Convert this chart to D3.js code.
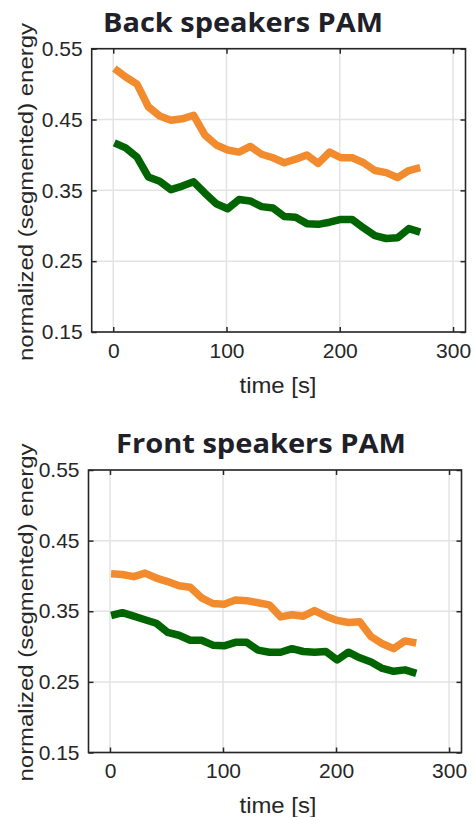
<!DOCTYPE html>
<html>
<head>
<meta charset="utf-8">
<script src="https://cdn.jsdelivr.net/npm/d3@7"></script>
<style>
  body { margin: 0; background: #fff; }
  svg { display: block; }
</style>
</head>
<body>
<div class="canva"></div>
<script>
// time stamps of the segments (s)
const times = [1, 11, 21, 31, 41, 51, 61, 71, 81, 91, 101, 111, 121, 131,
               141, 151, 161, 171, 181, 191, 201, 211, 221, 231, 241, 251, 261, 271];

// back speakers
const backOrange = [0.522, 0.510, 0.500, 0.468, 0.455, 0.449, 0.451, 0.456, 0.428, 0.414,
                    0.407, 0.404, 0.412, 0.401, 0.396, 0.389, 0.394, 0.400, 0.388, 0.404,
                    0.396, 0.396, 0.389, 0.378, 0.375, 0.368, 0.378, 0.382];
const backGreen = [0.417, 0.410, 0.397, 0.369, 0.363, 0.351, 0.356, 0.362, 0.346, 0.331,
                   0.324, 0.337, 0.335, 0.327, 0.325, 0.313, 0.312, 0.303, 0.302, 0.305,
                   0.309, 0.309, 0.297, 0.286, 0.282, 0.283, 0.296, 0.291];

// front speakers
const frontOrange = [0.403, 0.402, 0.399, 0.404, 0.397, 0.392, 0.386, 0.384, 0.369, 0.361,
                     0.360, 0.366, 0.365, 0.362, 0.359, 0.342, 0.345, 0.343, 0.351, 0.343,
                     0.337, 0.334, 0.335, 0.314, 0.304, 0.297, 0.308, 0.305];
const frontGreen = [0.344, 0.348, 0.343, 0.338, 0.333, 0.320, 0.316, 0.309, 0.309, 0.302,
                    0.301, 0.306, 0.306, 0.295, 0.292, 0.292, 0.297, 0.293, 0.292, 0.293,
                    0.281, 0.292, 0.284, 0.278, 0.269, 0.265, 0.267, 0.262];

const xTicks = [0, 100, 200, 300];
const yTicks = [0.15, 0.25, 0.35, 0.45, 0.55];

const orange = '#f28a2e';
const green = '#006400';
const ink = '#262626';

const svg = d3.select('.canva').append('svg')
              .attr('width', 475)
              .attr('height', 817);

function drawPanel(title, titleX, titleW, top, left, right, bottom, orangeVals, greenVals) {
    const x = d3.scaleLinear().domain([-19, 311]).range([left, right]);
    const y = d3.scaleLinear().domain([0.15, 0.55]).range([bottom, top]);

    const g = svg.append('g');

    // grid
    g.selectAll('.vgrid').data(xTicks).enter().append('line')
        .attr('x1', d => x(d)).attr('x2', d => x(d))
        .attr('y1', top).attr('y2', bottom)
        .attr('stroke', '#e3e3e3').attr('stroke-width', 1.5);
    g.selectAll('.hgrid').data(yTicks).enter().append('line')
        .attr('x1', left).attr('x2', right)
        .attr('y1', d => y(d)).attr('y2', d => y(d))
        .attr('stroke', '#e3e3e3').attr('stroke-width', 1.5);

    // lines
    const line = (vals) => d3.line()
        .x((d, i) => x(times[i]))
        .y(d => y(d))(vals);

    g.append('path').attr('d', line(orangeVals))
        .attr('fill', 'none').attr('stroke', orange)
        .attr('stroke-width', 7.5).attr('stroke-linejoin', 'round');
    g.append('path').attr('d', line(greenVals))
        .attr('fill', 'none').attr('stroke', green)
        .attr('stroke-width', 7.5).attr('stroke-linejoin', 'round');

    // axes, ticks inside like matlab
    const axBottom = g.append('g').attr('transform', `translate(0, ${bottom})`)
        .call(d3.axisBottom(x).tickValues(xTicks).tickSizeInner(-5).tickSizeOuter(0).tickPadding(11));
    const axTop = g.append('g').attr('transform', `translate(0, ${top})`)
        .call(d3.axisTop(x).tickValues(xTicks).tickSizeInner(-5).tickSizeOuter(0).tickFormat(''));
    const axLeft = g.append('g').attr('transform', `translate(${left}, 0)`)
        .call(d3.axisLeft(y).tickValues(yTicks).tickSizeInner(-5).tickSizeOuter(0)
              .tickFormat(d3.format('.2f')).tickPadding(9));
    const axRight = g.append('g').attr('transform', `translate(${right}, 0)`)
        .call(d3.axisRight(y).tickValues(yTicks).tickSizeInner(-5).tickSizeOuter(0).tickFormat(''));

    [axBottom, axTop, axLeft, axRight].forEach(a => {
        a.select('.domain').remove();
        a.selectAll('line').attr('stroke', ink).attr('stroke-width', 1.5);
        a.selectAll('text')
            .attr('fill', ink)
            .style('font-family', '"Liberation Sans", Arial, sans-serif')
            .style('font-size', '21px');
    });
    axBottom.selectAll('text').attr('dy', '0.71em');

    // box
    g.append('rect')
        .attr('x', left).attr('y', top)
        .attr('width', right - left).attr('height', bottom - top)
        .attr('fill', 'none').attr('stroke', ink).attr('stroke-width', 1.6);

    // axis labels
    g.append('text')
        .attr('x', 278).attr('y', bottom + 60.5)
        .attr('text-anchor', 'middle')
        .attr('textLength', 77).attr('lengthAdjust', 'spacingAndGlyphs')
        .attr('fill', ink)
        .style('font-family', '"Liberation Sans", Arial, sans-serif')
        .style('font-size', '22px')
        .text('time [s]');

    g.append('text')
        .attr('transform', `translate(33, ${bottom - 140}) rotate(-90)`)
        .attr('text-anchor', 'middle')
        .attr('textLength', 338).attr('lengthAdjust', 'spacingAndGlyphs')
        .attr('fill', ink)
        .style('font-family', '"Liberation Sans", Arial, sans-serif')
        .style('font-size', '21px')
        .text('normalized (segmented) energy');

    // title
    g.append('text')
        .attr('x', titleX).attr('y', top - 17)
        .attr('text-anchor', 'middle')
        .attr('textLength', titleW).attr('lengthAdjust', 'spacingAndGlyphs')
        .attr('fill', '#202028')
        .style('font-family', '"Open Sans", "Noto Sans", sans-serif')
        .style('font-weight', 700)
        .style('font-size', '27px')
        .text(title);
}

drawPanel('Back speakers PAM', 243, 280, 48.7, 91.7, 465.5, 332, backOrange, backGreen);
drawPanel('Front speakers PAM', 261, 290, 470, 88.5, 461.5, 752.5, frontOrange, frontGreen);
</script>
</body>
</html>
